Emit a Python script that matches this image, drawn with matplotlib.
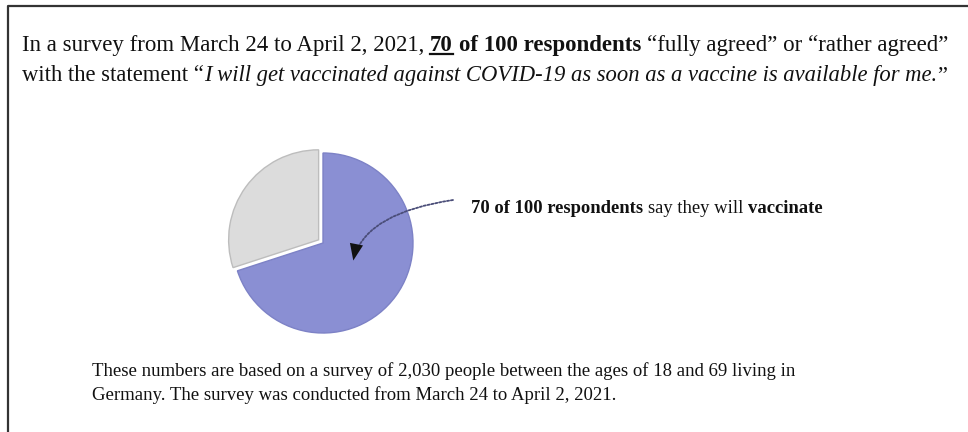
import matplotlib
matplotlib.use("Agg")
import matplotlib.pyplot as plt
from matplotlib.lines import Line2D

W, H = 968, 432
DPI = 100
FONT = "Liberation Serif"

# ---- data ----
labels = ["will vaccinate", "will not / undecided"]
values = [70, 30]
colors = ["#8a8fd3", "#dcdcdc"]
edge_colors = ["#7d82c6", "#bdbdbd"]
explode = [0.0, 0.06]

header_line1 = [("In a survey from March 24 to April 2, 2021, ", "normal", "normal", False),
                ("70", "bold", "normal", True),
                (" of 100 respondents", "bold", "normal", False),
                (" \u201cfully agreed\u201d or \u201crather agreed\u201d", "normal", "normal", False)]
header_line2 = [("with the statement \u201c", "normal", "normal", False),
                ("I will get vaccinated against COVID-19 as soon as a vaccine is available for me.", "normal", "italic", False),
                ("\u201d", "normal", "normal", False)]
callout = [("70 of 100 respondents", "bold", "normal", False),
           (" say they will ", "normal", "normal", False),
           ("vaccinate", "bold", "normal", False)]
footer_lines = ["These numbers are based on a survey of 2,030 people between the ages of 18 and 69 living in",
                "Germany. The survey was conducted from March 24 to April 2, 2021."]

fig = plt.figure(figsize=(W / DPI, H / DPI), dpi=DPI)
fig.patch.set_facecolor("white")
renderer = fig.canvas.get_renderer()


def fx(px):
    return px / W


def fy(py):
    return 1 - py / H


def text_width(s, size, weight, style):
    t = fig.text(0, 0, s, fontsize=size, fontweight=weight, fontstyle=style, family=FONT)
    w = t.get_window_extent(renderer).width
    t.remove()
    return w


def rich(segments, x, y, size, color="#111111"):
    cur = x
    for s, weight, style, ul in segments:
        sp_w = text_width("x x", size, weight, style) - text_width("xx", size, weight, style)
        lead = len(s) - len(s.lstrip(" "))
        trail = len(s) - len(s.rstrip(" "))
        core = s.strip(" ")
        cur += lead * sp_w
        t = fig.text(fx(cur), fy(y), core, fontsize=size, fontweight=weight, fontstyle=style,
                     family=FONT, va="baseline", ha="left", color=color)
        bb = t.get_window_extent(renderer)
        if ul:
            fig.add_artist(Line2D([fx(cur), fx(cur + bb.width)], [fy(y + 3), fy(y + 3)],
                                  color=color, lw=1.6, transform=fig.transFigure))
        cur += bb.width + trail * sp_w
    return cur


# border (left and top)
fig.add_artist(Line2D([fx(8), fx(8), fx(W)], [fy(H), fy(6), fy(6)], color="#333333", lw=1.6,
                      transform=fig.transFigure, solid_capstyle="butt"))

# header
rich(header_line1, 22, 51, 16.45)
rich(header_line2, 22, 81, 16.3)

# pie
R = 90
cx, cy = 323, 243
half = 1.5 * R
ax = fig.add_axes([fx(cx - half), fy(cy + half), 2 * half / W, 2 * half / H])
wedges, _ = ax.pie(values, colors=colors, explode=explode, startangle=90, counterclock=False,
                   radius=1.0, wedgeprops=dict(linewidth=1.0))
for wdg, ec in zip(wedges, edge_colors):
    wdg.set_edgecolor(ec)
ax.set_xlim(-1.5, 1.5)
ax.set_ylim(-1.5, 1.5)
ax.set_aspect("equal")
ax.axis("off")

# callout arrow (pie data coords): dotted shaft + solid head
tip = ((353 - cx) / R, -(262 - cy) / R)
tail = ((453 - cx) / R, -(200 - cy) / R)
conn = "angle3,angleA=8.5,angleB=79"
ax.annotate("", xy=tip, xytext=tail,
            arrowprops=dict(arrowstyle="-", linestyle=(0, (1.2, 1.0)), lw=1.3, color="#4a4d78",
                            connectionstyle=conn, shrinkA=0, shrinkB=5),
            annotation_clip=False)
ax.annotate("", xy=tip, xytext=tail,
            arrowprops=dict(arrowstyle="-|>,head_length=0.8,head_width=0.32", mutation_scale=15,
                            lw=0.8, ec="none", fc="#111111",
                            connectionstyle=conn, shrinkA=0, shrinkB=0),
            annotation_clip=False)

rich(callout, 471, 213, 13.45)

# footer
for i, line in enumerate(footer_lines):
    fig.text(fx(92), fy(376 + 24 * i), line, fontsize=13.5, family=FONT, va="baseline",
             ha="left", color="#111111")

fig.savefig("out.png", dpi=DPI, facecolor="white")
